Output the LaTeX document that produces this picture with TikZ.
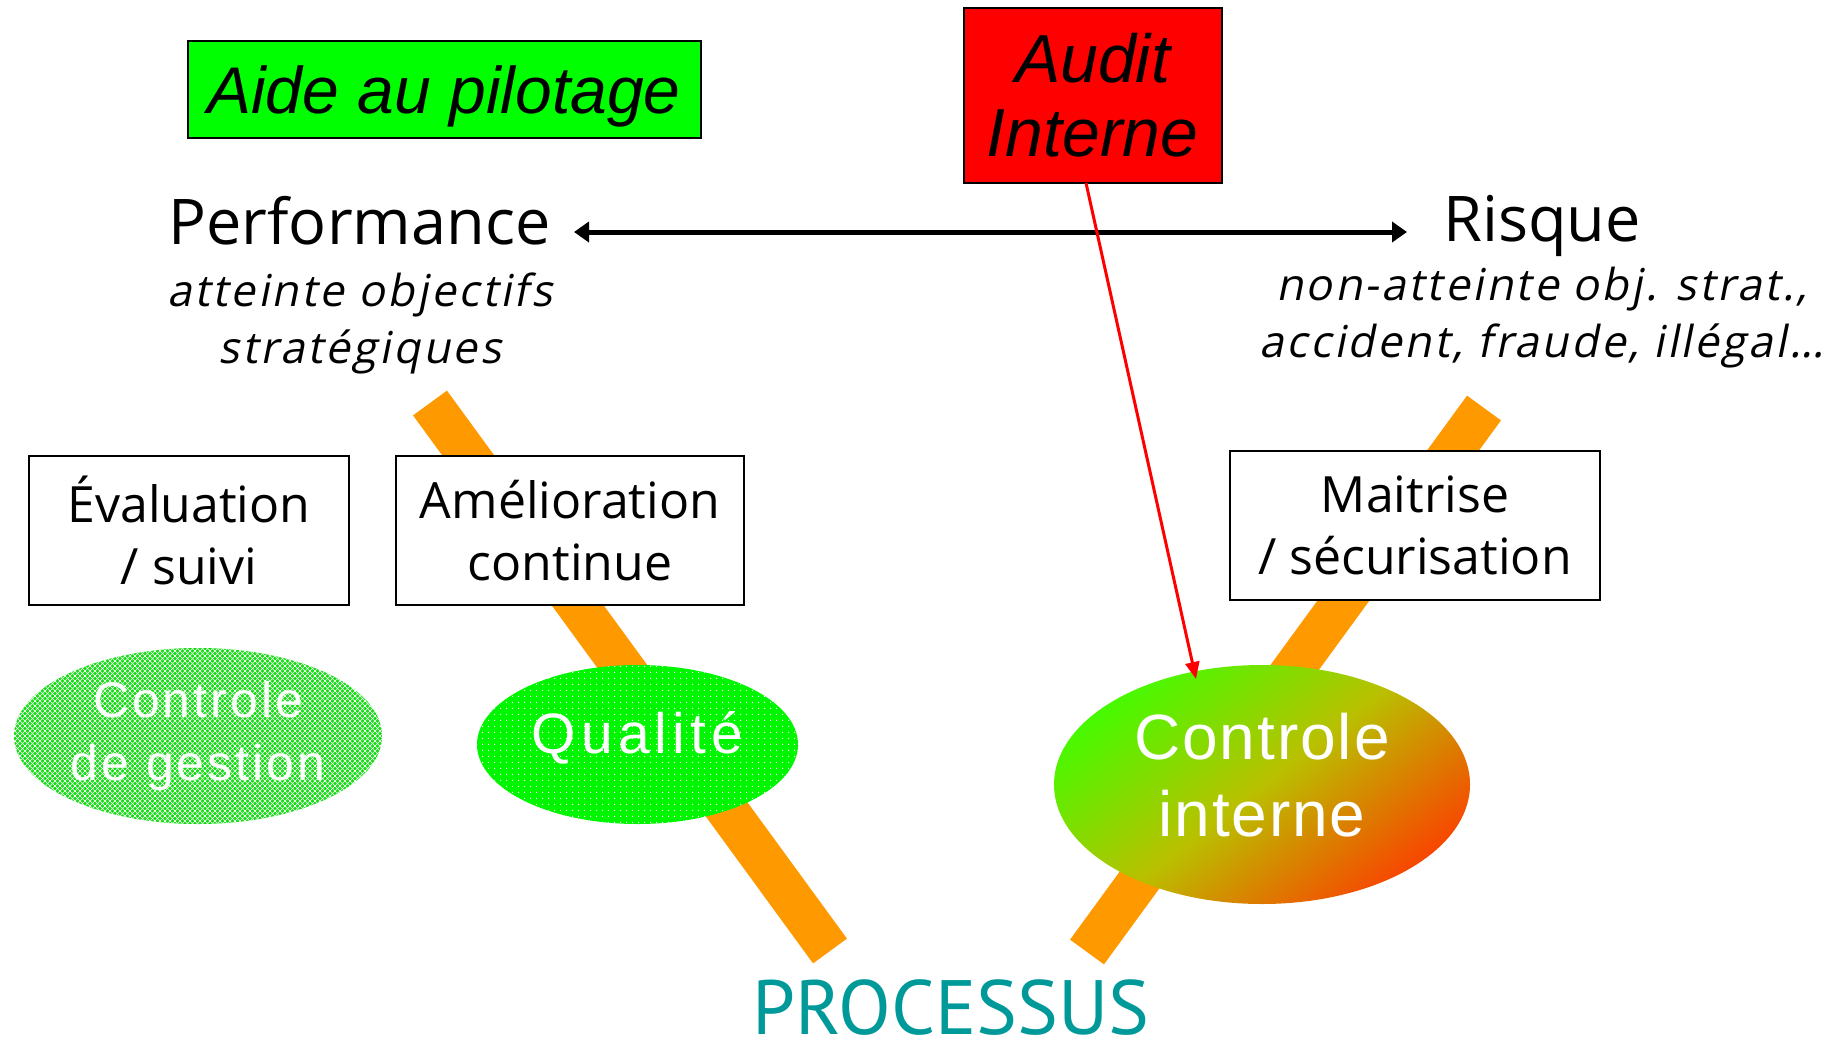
\documentclass[tikz,border=0pt]{standalone}
\usepackage{fontspec}
\setmainfont{Open Sans}
\newfontfamily\osreg{Open Sans}
\newfontfamily\osobl{Open Sans}[FakeSlant=0.2,LetterSpace=6]
\newfontfamily\arialf{Liberation Sans}
\newfontfamily\ptsans{PT Sans}
\usetikzlibrary{arrows.meta,patterns,shapes.geometric}
\definecolor{boxgreen}{RGB}{0,255,0}
\definecolor{auditred}{RGB}{255,0,0}
\definecolor{barorange}{RGB}{255,153,0}
\definecolor{procteal}{RGB}{0,153,153}
\definecolor{cgGreen}{RGB}{20,222,20}
\definecolor{qGreen}{RGB}{0,245,0}
\definecolor{ciG}{RGB}{70,250,0}
\definecolor{ciM}{RGB}{185,192,0}
\definecolor{ciR}{RGB}{248,70,0}
\pgfdeclarepatternformonly{xhatch}{\pgfqpoint{-1pt}{-1pt}}{\pgfqpoint{6pt}{6pt}}{\pgfqpoint{5pt}{5pt}}{%
  \pgfsetlinewidth{0.6pt}%
  \pgfpathmoveto{\pgfqpoint{-0.5pt}{-0.5pt}}\pgfpathlineto{\pgfqpoint{5.5pt}{5.5pt}}%
  \pgfpathmoveto{\pgfqpoint{-0.5pt}{5.5pt}}\pgfpathlineto{\pgfqpoint{5.5pt}{-0.5pt}}%
  \pgfusepath{stroke}}
\pgfdeclarepatternformonly{qdots}{\pgfqpoint{0pt}{0pt}}{\pgfqpoint{6pt}{6pt}}{\pgfqpoint{6pt}{6pt}}{%
  \pgfpathcircle{\pgfqpoint{3pt}{3pt}}{0.8pt}\pgfusepath{fill}}
\begin{document}
\begin{tikzpicture}[x=1pt,y=-1pt,
  every node/.style={inner sep=0pt,outer sep=0pt},
  barline/.style={line width=42pt,draw=barorange},
  tbox/.style={rectangle,draw=black,line width=1.6pt,fill=white,align=center,
    minimum height=149pt,font=\osreg\fontsize{50}{62}\selectfont},
  headtxt/.style={anchor=base,font=\osreg\fontsize{63}{74}\selectfont},
  subtxt/.style={align=center,font=\osobl\fontsize{44}{57}\selectfont},
  oval/.style={ellipse,text=white,align=center},
  bidir/.style={{Triangle[length=15pt,width=20pt]}-{Triangle[length=15pt,width=20pt]},line width=5pt,draw=black},
  redarrow/.style={-{Triangle[length=17pt,width=14pt]},line width=3pt,draw=auditred}
]
\useasboundingbox (0,0) rectangle (1838,1041);
% bars
\coordinate (lbTop) at (430,403);
\coordinate (lbBot) at (830,951);
\coordinate (rbTop) at (1484,408);
\coordinate (rbBot) at (1087,952);
\draw[barline] (lbTop) -- (lbBot);
\draw[barline] (rbTop) -- (rbBot);
% top boxes
\node[rectangle,draw=black,line width=2pt,fill=boxgreen,minimum width=513pt,minimum height=97pt,
  text depth=0pt,font=\arialf\itshape\fontsize{66}{78}\selectfont] (aide) at (444,89.5) {Aide au pilotage};
\node[rectangle,draw=black,line width=2pt,fill=auditred,minimum width=258pt,minimum height=175pt,
  align=center,font=\arialf\itshape\fontsize{68}{74}\selectfont] (audit) at (1092.5,95.5) {Audit\\Interne};
% headings
\node[headtxt] (perf) at (359.5,244) {Performance};
\node[headtxt] (risque) at (1542,241) {Risque};
\node[subtxt] (perfsub) at (360,323) {atteinte objectifs\\stratégiques};
\node[subtxt] (risksub) at (1542,318) {non-atteinte obj. strat.,\\accident, fraude, illégal…};
% boxes
\node[tbox,minimum width=320pt] (eval) at (189,530.5) {Évaluation\\/ suivi};
\node[tbox,minimum width=348pt] (amel) at (570,530.5) {Amélioration\\continue};
\node[tbox,minimum width=370pt] (mait) at (1415,525.5) {Maitrise\\/ sécurisation};
% ellipses
\node[oval,minimum width=368pt,minimum height=176pt,fill=cgGreen,
  postaction={pattern=xhatch,pattern color=white},
  font=\arialf\fontsize{50}{63}\selectfont\addfontfeature{LetterSpace=6}] (cg) at (198,736) {Controle\\de gestion};
\node[oval,minimum width=321pt,minimum height=159pt,fill=qGreen,
  postaction={pattern=qdots,pattern color=white},text height=42pt,text depth=25pt,
  font=\arialf\fontsize{57}{63}\selectfont\addfontfeature{LetterSpace=9}] (qual) at (637.5,744.5) {Qualité};
\node[oval,minimum width=416pt,minimum height=239pt,left color=ciG,right color=ciR,middle color=ciM,
  shading angle=38,text depth=19pt,
  font=\arialf\fontsize{64}{77}\selectfont\addfontfeature{LetterSpace=3}] (ci) at (1262,784.5) {Controle\\interne};
% processus
\node[anchor=base,text=procteal,font=\ptsans\fontsize{77}{80}\selectfont] (proc) at (951,1034) {PROCESSUS};
% arrows
\coordinate (arrL) at (574,232);
\coordinate (arrR) at (1407,232);
\draw[bidir] (arrL) -- (arrR);
\coordinate (ciTip) at (1196,679);
\draw[redarrow] ([xshift=-6.5pt]audit.south) -- (ciTip);
\end{tikzpicture}
\end{document}
